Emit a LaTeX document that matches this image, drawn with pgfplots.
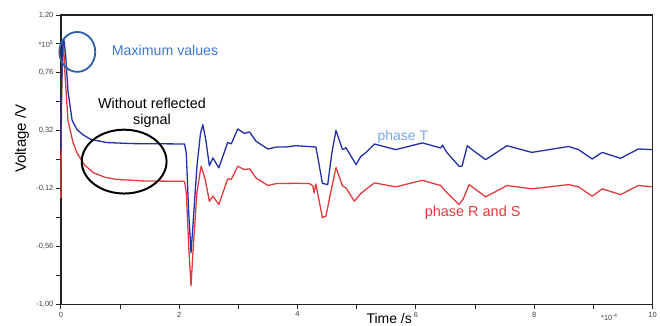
\documentclass[border=0pt]{standalone}
\usepackage{pgfplots}
\pgfplotsset{compat=1.18}
\usepackage{fontspec}
\setmainfont{Liberation Sans}
\definecolor{bluel}{HTML}{2030A8}
\definecolor{redl}{HTML}{E23A3E}
\definecolor{circb}{HTML}{2E5EA8}
\definecolor{txtb}{HTML}{3B78D0}
\definecolor{txtt}{HTML}{7AA6E6}
\definecolor{axc}{HTML}{222222}
\begin{document}
\begin{tikzpicture}
\begin{axis}[
  name=ax,
  scale only axis,
  width=593pt, height=290pt,
  xmin=0, xmax=10, ymin=-1, ymax=1.2,
  axis line style={axc, line width=1.3pt},
  tick style={axc, line width=0.9pt},
  tick align=outside,
  major tick length=5pt,
  xtick pos=bottom, ytick pos=left,
  xtick={0,1,...,10},
  xticklabels={0,,2,,4,,6,,8,,10},
  ytick={-1,-0.78,-0.56,-0.34,-0.12,0.10,0.32,0.54,0.76,0.98,1.20},
  yticklabels={{-1,00},{},{-0,56},{},{-0,12},{},{0,32},{},{0,76},{*10\textsuperscript{5}},{1,20}},
  ticklabel style={font=\fontsize{7.5}{8}\selectfont, text=black!75},
  xticklabel style={yshift=1pt},
  yticklabel style={xshift=1pt},
  clip=false,
]
\addplot[redl, line width=1.3pt, line join=round] coordinates {
(0,-0.19) (0.01,0.5) (0.03,0.95) (0.045,0.98) (0.07,0.75) (0.12,0.40) (0.2,0.24)
(0.27,0.153) (0.4,0.06) (0.55,0.0) (0.75,-0.035) (0.94,-0.05) (1.4,-0.062) (2.09,-0.065)
(2.12,-0.15) (2.16,-0.55) (2.20,-0.86) (2.24,-0.55) (2.30,-0.15) (2.37,0.05) (2.44,-0.05)
(2.51,-0.216) (2.57,-0.178) (2.67,-0.241) (2.82,-0.046) (2.88,-0.05) (2.99,0.05) (3.10,0.024)
(3.19,0.03) (3.30,-0.04) (3.50,-0.097) (3.64,-0.082) (3.97,-0.08) (4.2,-0.082) (4.26,-0.10)
(4.28,-0.153) (4.31,-0.085) (4.36,-0.2) (4.42,-0.34) (4.48,-0.33) (4.56,-0.15) (4.65,0.04)
(4.76,-0.10) (4.82,-0.115) (4.96,-0.216) (5.07,-0.158) (5.15,-0.128) (5.30,-0.077) (5.66,-0.107)
(6.11,-0.057) (6.42,-0.097) (6.50,-0.14) (6.73,-0.241) (6.80,-0.2) (6.90,-0.09) (7.18,-0.183)
(7.54,-0.097) (7.96,-0.122) (8.58,-0.09) (8.75,-0.107) (8.98,-0.178) (9.15,-0.122) (9.46,-0.166)
(9.76,-0.097) (10,-0.107)
};
\addplot[bluel, line width=1.3pt, line join=round] coordinates {
(0,0.176) (0.01,0.6) (0.03,0.98) (0.05,1.02) (0.08,0.9) (0.12,0.62) (0.19,0.40) (0.27,0.33)
(0.37,0.29) (0.5,0.255) (0.77,0.23) (1.2,0.222) (2.09,0.219) (2.12,0.15) (2.16,-0.3) (2.20,-0.608)
(2.24,-0.35) (2.30,0.05) (2.36,0.30) (2.40,0.366) (2.45,0.25) (2.51,0.054) (2.57,0.113) (2.67,0.037)
(2.82,0.231) (2.88,0.22) (2.99,0.333) (3.10,0.30) (3.19,0.31) (3.30,0.239) (3.50,0.181) (3.64,0.196)
(3.81,0.196) (3.97,0.206) (4.31,0.196) (4.35,0.10) (4.42,-0.08) (4.51,-0.09) (4.58,0.15) (4.65,0.322)
(4.76,0.176) (4.82,0.19) (4.99,0.062) (5.07,0.125) (5.15,0.151) (5.30,0.219) (5.66,0.176) (6.11,0.227)
(6.42,0.189) (6.45,0.21) (6.53,0.151) (6.73,0.05) (6.78,0.05) (6.87,0.206) (6.95,0.176) (7.18,0.10)
(7.54,0.206) (7.96,0.155) (8.58,0.2) (8.75,0.176) (8.98,0.105) (9.15,0.155) (9.46,0.11) (9.76,0.181)
(10,0.176)
};
\draw[circb, line width=1.8pt] (axis cs:0.278,0.919) ellipse [x radius=18pt, y radius=20pt];
\draw[black, line width=2pt] (axis cs:1.07,0.085) ellipse [x radius=42.5pt, y radius=32pt];
\node[anchor=west, text=txtb, font=\fontsize{14.2}{16}\selectfont, inner sep=0pt] at (axis cs:0.86,0.93) {Maximum values};
\node[align=center, font=\fontsize{14.4}{16.5}\selectfont, inner sep=0pt] at (axis cs:1.54,0.457) {Without reflected\\signal};
\node[text=txtt, font=\fontsize{14}{16}\selectfont, inner sep=0pt] at (axis cs:5.78,0.275) {phase T};
\node[text=redl, font=\fontsize{14.5}{16}\selectfont, inner sep=0pt] at (axis cs:6.96,-0.302) {phase R and S};
\node[font=\fontsize{7.5}{8}\selectfont, text=black!75, anchor=north] at ([yshift=-6pt]axis cs:9.27,-1) {*10\textsuperscript{-4}};
\node[font=\fontsize{14}{16}\selectfont, inner sep=0pt] at ([yshift=-14pt]axis cs:5.55,-1) {Time /s};
\node[font=\fontsize{15}{17}\selectfont, rotate=90, inner sep=0pt] at ([xshift=-39pt]axis cs:0,0.259) {Voltage /V};
\end{axis}
\useasboundingbox ([xshift=-61pt,yshift=-21pt]ax.south west) rectangle ([xshift=6pt,yshift=15pt]ax.north east);
\end{tikzpicture}
\end{document}
